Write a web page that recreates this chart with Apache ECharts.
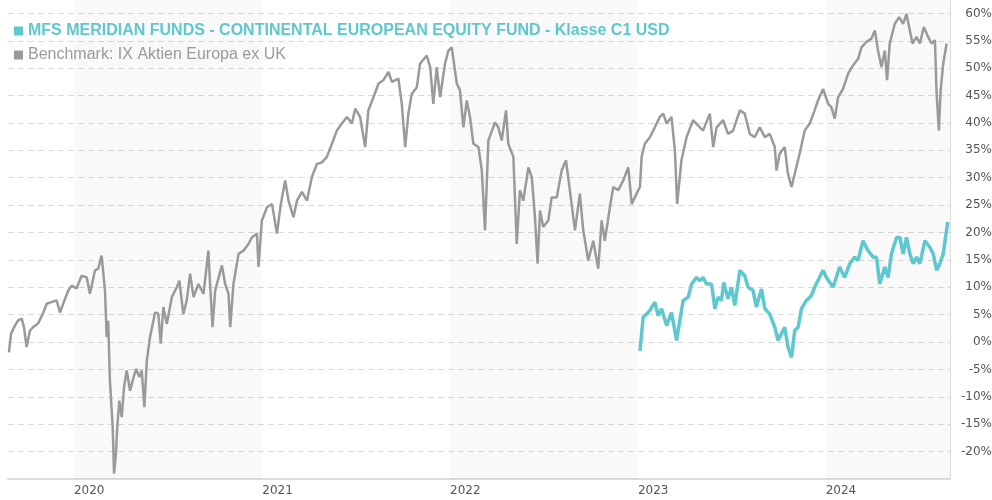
<!DOCTYPE html>
<html lang="de">
	<head>
		<meta charset="UTF-8" />
		<title>MFS Meridian Funds - Continental European Equity Fund</title>
		<script src="https://cdn.jsdelivr.net/npm/echarts@6.0.0/dist/echarts.min.js"></script>
		<style>
			html, body { margin: 0; padding: 0; background: #fff; }
		</style>
	</head>
	<body>
		<div id="main" style="width: 992px; height: 500px"></div>
		<script type="text/javascript">
			// dates as decimal years, values as % performance
			const fundName = "MFS MERIDIAN FUNDS - CONTINENTAL EUROPEAN EQUITY FUND - Klasse C1 USD";
			const benchName = "Benchmark: IX Aktien Europa ex UK";

			const benchT = [
				2019.654, 2019.665, 2019.686, 2019.702, 2019.722, 2019.734, 2019.748, 2019.766, 2019.782, 2019.809, 2019.835, 2019.855, 2019.881, 2019.908, 2019.926, 2019.943, 2019.970, 2019.988,
				2020.014, 2020.041, 2020.068, 2020.085, 2020.112, 2020.129, 2020.147, 2020.165, 2020.174, 2020.182, 2020.191, 2020.206, 2020.213, 2020.223, 2020.230, 2020.241, 2020.254, 2020.266, 2020.280, 2020.298, 2020.312, 2020.330, 2020.347, 2020.360, 2020.374, 2020.387, 2020.404, 2020.431, 2020.448, 2020.461, 2020.475, 2020.493, 2020.520, 2020.546, 2020.560, 2020.581, 2020.599, 2020.617, 2020.635, 2020.661, 2020.688, 2020.714, 2020.723, 2020.736, 2020.750, 2020.786, 2020.803, 2020.821, 2020.830, 2020.847, 2020.874, 2020.901, 2020.927, 2020.945, 2020.972, 2020.980, 2020.998,
				2021.025, 2021.052, 2021.078, 2021.099, 2021.122, 2021.140, 2021.166, 2021.185, 2021.211, 2021.238, 2021.264, 2021.291, 2021.318, 2021.344, 2021.371, 2021.397, 2021.424, 2021.451, 2021.477, 2021.495, 2021.521, 2021.548, 2021.565, 2021.592, 2021.619, 2021.645, 2021.672, 2021.690, 2021.725, 2021.743, 2021.761, 2021.778, 2021.796, 2021.823, 2021.840, 2021.876, 2021.894, 2021.911, 2021.929, 2021.947, 2021.973, 2021.991,
				2022.009, 2022.021, 2022.036, 2022.053, 2022.071, 2022.089, 2022.106, 2022.124, 2022.151, 2022.169, 2022.186, 2022.204, 2022.239, 2022.257, 2022.275, 2022.298, 2022.310, 2022.337, 2022.355, 2022.372, 2022.390, 2022.417, 2022.435, 2022.452, 2022.466, 2022.479, 2022.496, 2022.523, 2022.541, 2022.568, 2022.594, 2022.617, 2022.638, 2022.665, 2022.691, 2022.709, 2022.736, 2022.762, 2022.789, 2022.807, 2022.824, 2022.851, 2022.869, 2022.895, 2022.922, 2022.949, 2022.967, 2022.993,
				2023.011, 2023.020, 2023.037, 2023.064, 2023.090, 2023.117, 2023.135, 2023.153, 2023.179, 2023.197, 2023.209, 2023.232, 2023.259, 2023.294, 2023.321, 2023.347, 2023.383, 2023.401, 2023.419, 2023.454, 2023.480, 2023.507, 2023.543, 2023.569, 2023.596, 2023.622, 2023.649, 2023.676, 2023.702, 2023.729, 2023.738, 2023.755, 2023.782, 2023.799, 2023.818, 2023.835, 2023.862, 2023.888, 2023.915, 2023.941, 2023.959, 2023.986,
				2024.013, 2024.030, 2024.048, 2024.066, 2024.092, 2024.119, 2024.145, 2024.172, 2024.190, 2024.216, 2024.243, 2024.261, 2024.278, 2024.296, 2024.314, 2024.326, 2024.340, 2024.367, 2024.390, 2024.411, 2024.429, 2024.443, 2024.461, 2024.482, 2024.500, 2024.521, 2024.544, 2024.562, 2024.580, 2024.589, 2024.601, 2024.610, 2024.624, 2024.642,
			];
			const benchV = [
				-1.9, 1.5, 3.0, 3.9, 4.3, 2.7, -0.9, 2.1, 2.7, 3.4, 5.2, 7.0, 7.3, 7.6, 5.4, 7.0, 9.4, 10.3,
				9.8, 12.1, 11.8, 8.8, 13.1, 13.4, 15.8, 9.4, 0.9, 3.9, -7.0, -15.6, -24.0, -20.4, -15.6, -10.7, -13.7, -8.3, -5.2, -8.9, -7.0, -4.9, -6.4, -5.2, -11.9, -3.4, 0.9, 5.4, 5.2, -0.3, 6.4, 3.3, 8.2, 10.0, 11.2, 5.1, 7.6, 12.5, 8.2, 10.6, 8.8, 16.7, 10.6, 2.7, 9.4, 14.0, 10.6, 8.8, 2.7, 10.6, 16.1, 16.7, 17.9, 19.1, 19.8, 13.7, 22.2,
				24.6, 25.2, 19.8, 25.2, 29.5, 25.8, 22.8, 25.8, 27.4, 25.8, 30.1, 32.5, 32.8, 33.8, 36.2, 38.6, 39.9, 41.1, 39.9, 42.6, 41.1, 35.6, 42.3, 44.7, 47.2, 47.8, 49.3, 47.5, 48.1, 43.5, 35.6, 41.7, 45.3, 46.5, 50.8, 52.3, 50.2, 43.5, 50.2, 44.7, 50.8, 53.2,
				53.8, 50.8, 47.2, 45.9, 39.2, 44.1, 41.1, 36.2, 35.6, 31.3, 20.4, 36.8, 40.1, 39.2, 36.8, 42.3, 36.2, 33.8, 17.9, 27.7, 25.8, 31.9, 30.1, 22.8, 14.3, 24.0, 21.0, 22.2, 26.4, 26.4, 31.3, 33.2, 27.7, 20.4, 27.1, 20.4, 14.9, 18.5, 13.4, 22.2, 18.5, 24.6, 28.3, 27.7, 29.5, 31.9, 25.2, 27.1,
				28.3, 33.8, 36.2, 37.4, 39.2, 41.1, 41.7, 39.9, 41.1, 35.0, 25.2, 33.2, 37.4, 40.5, 39.5, 38.6, 41.7, 35.6, 39.2, 40.5, 38.0, 38.6, 42.3, 41.7, 38.0, 37.4, 39.2, 37.4, 38.0, 35.6, 31.3, 34.4, 35.6, 30.7, 28.3, 30.7, 34.5, 38.6, 39.9, 42.3, 44.1, 46.2,
				43.5, 42.9, 40.8, 44.7, 46.2, 49.0, 50.5, 51.7, 53.8, 54.8, 55.4, 56.9, 53.2, 50.2, 53.2, 47.8, 54.5, 58.1, 59.3, 58.1, 59.9, 57.5, 54.5, 55.7, 54.5, 57.5, 55.7, 54.5, 55.1, 45.3, 38.6, 45.9, 50.8, 54.5,
			];

			const fundT = [
				2023.011, 2023.028, 2023.046, 2023.064, 2023.090, 2023.108, 2023.126, 2023.153, 2023.179, 2023.206, 2023.223, 2023.241, 2023.268, 2023.286, 2023.312, 2023.330, 2023.347, 2023.365, 2023.392, 2023.410, 2023.427, 2023.445, 2023.457, 2023.480, 2023.498, 2023.516, 2023.543, 2023.569, 2023.587, 2023.613, 2023.631, 2023.658, 2023.676, 2023.702, 2023.729, 2023.746, 2023.764, 2023.782, 2023.799, 2023.818, 2023.835, 2023.853, 2023.871, 2023.897, 2023.924, 2023.941, 2023.986,
				2024.004, 2024.039, 2024.074, 2024.101, 2024.128, 2024.154, 2024.172, 2024.198, 2024.225, 2024.252, 2024.270, 2024.287, 2024.314, 2024.331, 2024.349, 2024.376, 2024.394, 2024.411, 2024.429, 2024.447, 2024.465, 2024.482, 2024.500, 2024.527, 2024.553, 2024.571, 2024.589, 2024.606, 2024.624, 2024.648,
			];
			const fundV = [
				-1.6, 4.5, 5.1, 5.8, 7.3, 4.8, 6.1, 3.0, 5.4, 0.3, 3.9, 7.6, 8.2, 10.6, 11.8, 11.2, 11.8, 10.6, 10.6, 6.1, 8.2, 7.6, 10.9, 7.9, 10.0, 6.7, 13.1, 12.1, 10.0, 9.4, 6.4, 9.7, 6.1, 5.1, 2.7, 0.3, 1.5, 2.7, -0.9, -2.8, 2.1, 2.7, 6.1, 7.6, 8.5, 10.0, 13.1,
				11.8, 10.0, 13.7, 11.8, 14.3, 15.5, 14.9, 18.5, 16.7, 15.5, 15.5, 10.6, 13.7, 11.8, 16.1, 19.1, 19.1, 16.1, 19.1, 16.1, 14.3, 15.5, 14.3, 18.5, 17.3, 16.1, 13.1, 14.3, 16.1, 21.9,
			];

			const shadedYears = [2020, 2022, 2024];
			const xStart = 2019.649;
			const xEnd = 2024.66;

			// decimal year -> timestamp (UTC)
			function toTime(t) {
				const y = Math.floor(t);
				const a = Date.UTC(y, 0, 1);
				const b = Date.UTC(y + 1, 0, 1);
				return a + (t - y) * (b - a);
			}

			const benchData = benchT.map((t, i) => [toTime(t), benchV[i]]);
			const fundData = fundT.map((t, i) => [toTime(t), fundV[i]]);
			const bands = shadedYears.map((y) => [{ xAxis: toTime(y) }, { xAxis: Math.min(toTime(y + 1), toTime(xEnd)) }]);

			const chart = echarts.init(document.getElementById("main"));
			chart.setOption({
				animation: false,
				useUTC: true,
				backgroundColor: "#fff",
				grid: { left: 8, right: 42, top: -14, bottom: 21, outerBoundsMode: "none", containLabel: false },
				legend: {
					left: 14,
					top: 23,
					padding: 0,
					orient: "vertical",
					icon: "rect",
					itemWidth: 9,
					itemHeight: 9,
					itemGap: 8,
					selectedMode: false,
					textStyle: { fontFamily: "Liberation Sans", fontSize: 16 },
					data: [
						{ name: fundName, textStyle: { color: "#5ec8ce", fontWeight: "bold" } },
						{ name: benchName, textStyle: { color: "#9a9a9a" } },
					],
				},
				xAxis: {
					type: "time",
					min: toTime(xStart),
					max: toTime(xEnd),
					splitNumber: 5,
					axisLine: { show: true, onZero: false, lineStyle: { color: "#dcdcdc", width: 2 } },
					axisTick: { show: false },
					splitLine: { show: false },
					axisLabel: {
						color: "#555",
						fontFamily: "DejaVu Sans",
						fontSize: 12,
						align: "left",
						margin: 6,
						formatter: (value) => {
							const d = new Date(value);
							return d.getUTCMonth() === 0 && d.getUTCDate() === 1 ? String(d.getUTCFullYear()) : "";
						},
					},
				},
				yAxis: {
					type: "value",
					position: "right",
					min: -25,
					max: 65,
					interval: 5,
					axisLine: { show: true, lineStyle: { color: "#dcdcdc" } },
					axisTick: { show: false },
					splitLine: { lineStyle: { color: "#d9d9d9", type: [6, 4] } },
					axisLabel: {
						color: "#555",
						fontFamily: "DejaVu Sans",
						fontSize: 12,
						align: "right",
						margin: 42,
						formatter: (v) => (v > -25 && v < 65 ? v + "%" : ""),
					},
				},
				series: [
					{
						name: benchName,
						type: "line",
						data: benchData,
						showSymbol: false,
						color: "#9a9a9a",
						lineStyle: { width: 2.5, color: "#9a9a9a" },
						markArea: {
							silent: true,
							itemStyle: { color: "rgba(0,0,0,0.024)" },
							label: { show: false },
							data: bands,
						},
					},
					{
						name: fundName,
						type: "line",
						data: fundData,
						showSymbol: false,
						color: "#5ec8ce",
						lineStyle: { width: 3.5, color: "#5ec8ce" },
					},
				],
			});
		</script>
	</body>
</html>
